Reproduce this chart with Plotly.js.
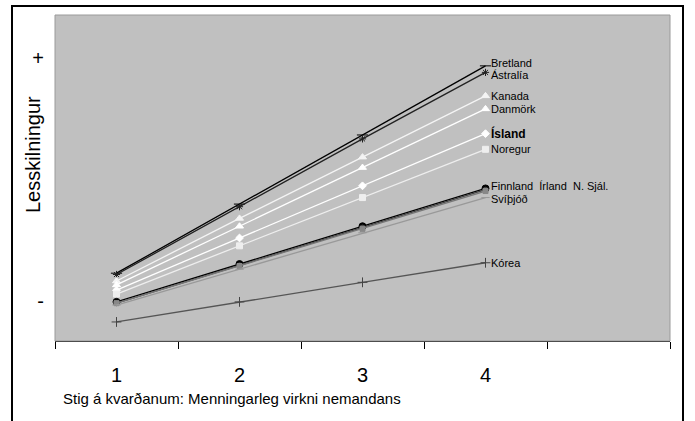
<!DOCTYPE html>
<html><head><meta charset="utf-8">
<script src="https://cdn.plot.ly/plotly-3.0.1.min.js"></script>
<style>html,body{margin:0;padding:0;background:#fff}#chart{width:695px;height:421px}</style>
</head><body><div id="chart"></div>
<script>
const categories = [1, 2, 3, 4];
const categoryLabels = ['1', '2', '3', '4'];
const countries = ['Bretland', 'Ástralía', 'Kanada', 'Danmörk', 'Ísland', 'Noregur', 'Finnland', 'Írland', 'N. Sjál.', 'Svíþjóð', 'Kórea'];
const bretland = [402, 455, 508, 561];
const astralia = [401, 453, 505, 556];
const kanada   = [396, 444, 491, 538];
const danmork  = [393, 438, 483, 528];
const island   = [389, 429, 469, 509];
const noregur  = [386, 423, 460, 497];
const finnland = [380, 409, 438, 467];
const irland   = [379, 408, 437, 466];
const nsjal    = [379, 407.5, 436, 465];
const svithjod = [377.6, 405, 433, 460];
const korea    = [364.6, 380, 395, 410];
const yTickVals = [381, 567];
const yTickText = ['-', '+'];

const series = [bretland, astralia, kanada, danmork, island, noregur, finnland, irland, nsjal, svithjod, korea];
const styles = [
  {line: '#000000', marker: 'line-ew', mcolor: '#000000', size: 8},
  {line: '#222222', marker: 'asterisk', mcolor: '#222222', size: 6},
  {line: '#f4f4f4', marker: 'triangle-up', mcolor: '#f4f4f4', size: 7},
  {line: '#ffffff', marker: 'triangle-up', mcolor: '#ffffff', size: 7},
  {line: '#ffffff', marker: 'diamond', mcolor: '#ffffff', size: 6},
  {line: '#eeeeee', marker: 'square', mcolor: '#eeeeee', size: 6},
  {line: '#000000', marker: 'circle', mcolor: '#000000', size: 7},
  {line: '#444444', marker: 'circle', mcolor: '#444444', size: 5},
  {line: '#777777', marker: 'square', mcolor: '#888888', size: 5},
  {line: '#999999', marker: 'line-ew', mcolor: '#999999', size: 6},
  {line: '#555555', marker: 'cross-thin', mcolor: '#444444', size: 7}
];

const traces = series.map((vals, i) => ({
  x: categories, y: vals, type: 'scatter', mode: 'lines+markers', name: countries[i],
  line: {color: styles[i].line, width: 1.3},
  marker: {symbol: styles[i].marker, color: styles[i].mcolor, size: styles[i].size,
           line: {color: styles[i].mcolor, width: 1}},
  showlegend: false, hoverinfo: 'skip'
}));
// invisible trace to carry boundary ticks on a second x-axis
traces.push({x: [0.5, 5.5], y: [400, 400], xaxis: 'x2', mode: 'markers', marker: {opacity: 0}, showlegend: false, hoverinfo: 'skip'});

const labelIdx = [0, 1, 2, 3, 4, 5, 6, 9, 10];
const labelText = ['Bretland', 'Ástralía', 'Kanada', 'Danmörk', '<b>Ísland</b>', 'Noregur',
                   'Finnland  Írland  N. Sjál.', 'Svíþjóð', 'Kórea'];
const labelShift = [3, -3, 0, 0, 0, 0, 2, -1, 0];
const annotations = labelIdx.map((si, k) => ({
  x: categories[3], y: series[si][3], xref: 'x', yref: 'y', text: labelText[k],
  showarrow: false, xanchor: 'left', yanchor: 'middle', xshift: 3, yshift: labelShift[k],
  font: {family: 'Liberation Sans, Arial, sans-serif', size: si === 4 ? 12 : 11, color: '#000'}
}));
annotations.push({
  text: 'Stig á kvarðanum: Menningarleg virkni nemandans', xref: 'paper', yref: 'paper',
  x: (61 - 55) / 615, y: (341 - 398) / 326, xanchor: 'left', yanchor: 'middle', showarrow: false,
  font: {family: 'Liberation Sans, Arial, sans-serif', size: 15, color: '#000'}
});
annotations.push({
  text: 'Lesskilningur', xref: 'paper', yref: 'paper', textangle: -90,
  x: (33 - 55) / 615, y: (341 - 155) / 326, xanchor: 'center', yanchor: 'middle', showarrow: false,
  font: {family: 'Liberation Sans, Arial, sans-serif', size: 20, color: '#000'}
});

const layout = {
  width: 695, height: 421,
  margin: {l: 55, r: 25, t: 15, b: 80},
  paper_bgcolor: '#ffffff', plot_bgcolor: '#c0c0c0',
  font: {family: 'Liberation Sans, Arial, sans-serif', color: '#000'},
  xaxis: {range: [0.5, 5.5], tickvals: categories, ticktext: categoryLabels, ticks: '',
          showgrid: false, zeroline: false, showline: true, linecolor: '#000', linewidth: 1,
          tickfont: {size: 20}, ticklabelstandoff: 16, fixedrange: true},
  xaxis2: {overlaying: 'x', side: 'bottom', range: [0.5, 5.5], tickvals: [0.5, 1.5, 2.5, 3.5, 4.5, 5.5],
           ticks: 'outside', ticklen: 7, tickcolor: '#000', showticklabels: false,
           showgrid: false, zeroline: false, showline: false},
  yaxis: {range: [350, 600], tickvals: yTickVals, ticktext: yTickText, ticks: '',
          showgrid: false, zeroline: false, showline: false, tickfont: {size: 20},
          ticklabelstandoff: 10},
  annotations: annotations,
  shapes: [
    {type: 'rect', xref: 'paper', yref: 'paper', x0: 0, x1: 1, y0: 0, y1: 1,
     line: {color: '#9a9a9a', width: 1}, layer: 'above'},
    {type: 'rect', xref: 'paper', yref: 'paper', x0: (12 - 55) / 615, x1: (683 - 55) / 615,
     y0: (341 - 425) / 326, y1: (341 - 6) / 326, line: {color: '#000', width: 2}}
  ]
};
Plotly.newPlot('chart', traces, layout, {displayModeBar: false, staticPlot: true});
</script></body></html>
